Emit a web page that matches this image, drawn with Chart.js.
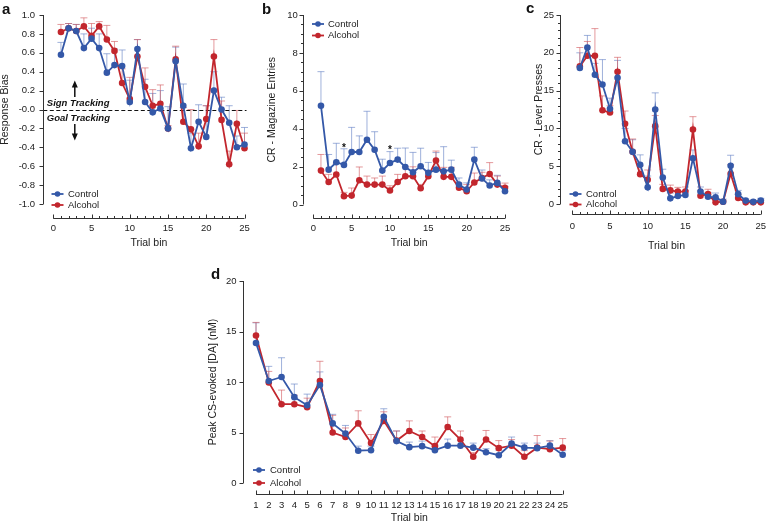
<!DOCTYPE html>
<html>
<head>
<meta charset="utf-8">
<script src="https://cdn.jsdelivr.net/npm/chart.js@4.4.0/dist/chart.umd.min.js"></script>
<style>
  html, body { margin: 0; padding: 0; background: #fff; width: 768px; height: 529px; overflow: hidden; }
  canvas { position: absolute; left: 0; top: 0; }
  .letter { position: absolute; font: bold 15px 'Liberation Sans', Arial, sans-serif; line-height: 15px; color: #111; }
</style>
</head>
<body>
<canvas id="chartA" width="768" height="529"></canvas>
<canvas id="chartB" width="768" height="529"></canvas>
<canvas id="chartC" width="768" height="529"></canvas>
<canvas id="chartD" width="768" height="529"></canvas>
<div class="letter" style="left:2px;top:1px">a</div>
<div class="letter" style="left:262px;top:1px">b</div>
<div class="letter" style="left:526px;top:0px">c</div>
<div class="letter" style="left:211px;top:266px">d</div>
<script>
// trial bins shared by all panels
const trialBins = [1, 2, 3, 4, 5, 6, 7, 8, 9, 10, 11, 12, 13, 14, 15, 16, 17, 18, 19, 20, 21, 22, 23, 24, 25];

// a - response bias
const biasControl = [0.58, 0.86, 0.83, 0.65, 0.75, 0.65, 0.39, 0.47, 0.46, 0.08, 0.64, 0.08, -0.03, 0.01, -0.20, 0.51, 0.04, -0.41, -0.13, -0.29, 0.20, 0.00, -0.14, -0.40, -0.37];
const biasControlErr = [0.13, 0.05, 0.07, 0.15, 0.11, 0.15, 0.20, 0.17, 0.17, 0.23, 0.10, 0.24, 0.20, 0.19, 0.23, 0.15, 0.23, 0.16, 0.18, 0.33, 0.20, 0.13, 0.18, 0.12, 0.18];
const biasAlcohol = [0.82, 0.86, 0.83, 0.88, 0.78, 0.88, 0.74, 0.62, 0.28, 0.11, 0.56, 0.24, 0.04, 0.06, -0.20, 0.53, -0.13, -0.21, -0.39, -0.10, 0.56, -0.11, -0.58, -0.15, -0.41];
const biasAlcoholErr = [0.08, 0.05, 0.07, 0.09, 0.13, 0.05, 0.15, 0.10, 0.15, 0.23, 0.18, 0.20, 0.17, 0.20, 0.03, 0.14, 0.15, 0.21, 0.14, 0.14, 0.18, 0.20, 0.14, 0.14, 0.16];
const biasTicks = [-1.0, -0.8, -0.6, -0.4, -0.2, 0, 0.2, 0.4, 0.6, 0.8, 1.0];

// b - magazine entries
const entriesControl = [5.21, 1.84, 2.23, 2.09, 2.77, 2.77, 3.42, 2.89, 1.79, 2.19, 2.37, 1.98, 1.70, 2.02, 1.67, 1.84, 1.75, 1.84, 1.05, 0.79, 2.37, 1.37, 1.00, 1.14, 0.70];
const entriesControlErr = [1.8, 0.8, 1.0, 0.85, 1.3, 0.85, 1.5, 0.95, 0.6, 0.6, 0.6, 1.0, 1.05, 0.95, 0.55, 0.9, 1.3, 0.5, 0.35, 0.35, 0.65, 0.45, 0.3, 0.4, 0.25];
const entriesAlcohol = [1.79, 1.19, 1.58, 0.44, 0.47, 1.28, 1.05, 1.05, 1.05, 0.74, 1.19, 1.49, 1.49, 0.86, 1.49, 2.32, 1.46, 1.46, 0.88, 0.70, 1.16, 1.40, 1.61, 1.05, 0.88];
const entriesAlcoholErr = [0.85, 0.4, 0.6, 0.2, 0.4, 0.7, 0.45, 0.35, 0.45, 0.25, 0.4, 0.5, 0.5, 0.2, 0.25, 0.5, 0.5, 0.5, 0.25, 0.35, 0.5, 0.3, 0.6, 0.45, 0.25];
const entriesTicks = [0, 2, 4, 6, 8, 10];
const starBins = [4, 10];

// c - lever presses
const pressControl = [18.0, 20.7, 17.1, 15.8, 12.6, 16.7, 8.3, 6.9, 5.2, 2.2, 12.5, 3.5, 0.75, 1.05, 1.2, 6.05, 1.65, 0.95, 0.9, 0.3, 5.05, 1.3, 0.45, 0.3, 0.45];
const pressControlErr = [2.0, 1.6, 1.5, 3.3, 1.4, 2.3, 1.7, 1.6, 1.3, 1.5, 2.2, 1.1, 0.7, 0.6, 0.6, 1.1, 0.6, 0.55, 0.55, 0.35, 1.4, 0.5, 0.2, 0.2, 0.3];
const pressAlcohol = [18.2, 19.6, 19.6, 12.4, 12.1, 17.5, 10.6, 6.9, 3.95, 3.2, 10.3, 2.0, 1.8, 1.65, 1.65, 9.85, 1.1, 1.3, 0.22, 0.3, 4.0, 0.8, 0.22, 0.22, 0.22];
const pressAlcoholErr = [2.5, 1.9, 3.6, 1.9, 0.9, 1.9, 1.7, 1.7, 1.1, 1.3, 1.4, 0.6, 0.7, 0.55, 0.6, 1.7, 0.65, 0.65, 0.3, 0.2, 1.2, 0.5, 0.3, 0.2, 0.3];
const pressTicks = [0, 5, 10, 15, 20, 25];

// d - peak CS-evoked dopamine
const daControl = [13.86, 10.1, 10.5, 8.5, 7.7, 9.7, 5.9, 4.9, 3.2, 3.25, 6.55, 4.15, 3.55, 3.65, 3.25, 3.7, 3.7, 3.5, 3.05, 2.75, 3.9, 3.5, 3.45, 3.7, 2.8];
const daControlErr = [2.0, 1.45, 1.9, 1.3, 1.1, 1.3, 0.9, 0.8, 0.45, 0.4, 0.8, 1.0, 0.5, 0.5, 0.5, 0.65, 0.5, 0.45, 0.35, 0.5, 0.65, 0.45, 0.5, 0.5, 0.4];
const daAlcohol = [14.6, 9.95, 7.8, 7.8, 7.5, 10.1, 5.0, 4.55, 5.9, 3.95, 6.15, 4.2, 5.15, 4.55, 3.65, 5.55, 4.3, 2.6, 4.3, 3.45, 3.7, 2.6, 3.5, 3.35, 3.5];
const daAlcoholErr = [1.3, 1.1, 1.4, 0.9, 0.9, 1.95, 1.7, 0.9, 1.25, 0.85, 0.9, 0.95, 1.0, 0.6, 0.9, 1.0, 0.85, 0.4, 0.9, 0.75, 0.6, 0.6, 1.2, 0.8, 0.9];
const daTicks = [0, 5, 10, 15, 20];

const binLabels = [0, 5, 10, 15, 20, 25];

const FONT = "'Liberation Sans', Arial, sans-serif";
const TICK_SIZE = 9.5;
const TITLE_SIZE = 10.5;
const TEXT = '#222';
const BLUE = '#3458a8';
const RED = '#c2262d';
const BLUE_ERR = 'rgba(95,125,195,0.6)';
const RED_ERR = 'rgba(210,85,90,0.6)';

function stepList(min, max, step) {
    const out = [];
    for (let i = 0; min + i * step <= max + 1e-9; i++) out.push(+(min + i * step).toFixed(4));
    return out;
}

// one-sided (upward) SEM bars
const errorBars = {
    id: 'errorBars',
    beforeDatasetsDraw(chart) {
        const ctx = chart.ctx;
        const y = chart.scales.y;
        chart.data.datasets.forEach((ds, i) => {
            const meta = chart.getDatasetMeta(i);
            ctx.save();
            ctx.strokeStyle = ds.errColor;
            ctx.lineWidth = 1;
            ctx.beginPath();
            meta.data.forEach((pt, j) => {
                const top = y.getPixelForValue(ds.data[j].y + ds.errors[j]);
                ctx.moveTo(pt.x, pt.y);
                ctx.lineTo(pt.x, top);
                ctx.moveTo(pt.x - 3.5, top);
                ctx.lineTo(pt.x + 3.5, top);
            });
            ctx.stroke();
            ctx.restore();
        });
    }
};

// detached prism-style axes
const prismAxes = {
    id: 'prismAxes',
    afterDraw(chart, args, o) {
        const {ctx, chartArea} = chart;
        const {x, y} = chart.scales;
        const ax = Math.round(chartArea.left - o.gapY) + 0.5;
        const ay = Math.round(chartArea.bottom + o.gapX) + 0.5;
        ctx.save();
        ctx.strokeStyle = '#333';
        ctx.lineWidth = 1;
        ctx.beginPath();
        ctx.moveTo(ax, y.getPixelForValue(y.max));
        ctx.lineTo(ax, y.getPixelForValue(y.min));
        y.ticks.forEach(t => {
            const py = Math.round(y.getPixelForValue(t.value)) + 0.5;
            ctx.moveTo(ax - (t.label ? 4 : 2.5), py);
            ctx.lineTo(ax, py);
        });
        ctx.moveTo(x.getPixelForValue(x.min), ay);
        ctx.lineTo(x.getPixelForValue(x.max), ay);
        x.ticks.forEach(t => {
            const px = Math.round(x.getPixelForValue(t.value)) + 0.5;
            ctx.moveTo(px, ay);
            ctx.lineTo(px, ay - (t.label ? 4 : 2.5));
        });
        ctx.stroke();
        ctx.restore();
    }
};

const lineLegend = {
    id: 'lineLegend',
    afterDraw(chart, args, o) {
        const ctx = chart.ctx;
        ctx.save();
        chart.data.datasets.forEach((ds, i) => {
            const y = o.y[i];
            ctx.strokeStyle = ds.borderColor;
            ctx.lineWidth = 1.8;
            ctx.beginPath();
            ctx.moveTo(o.x, y);
            ctx.lineTo(o.x + o.len, y);
            ctx.stroke();
            ctx.fillStyle = ds.borderColor;
            ctx.beginPath();
            ctx.arc(o.x + o.len / 2, y, 2.8, 0, Math.PI * 2);
            ctx.fill();
            ctx.fillStyle = TEXT;
            ctx.font = TICK_SIZE + 'px ' + FONT;
            ctx.textBaseline = 'middle';
            ctx.fillText(ds.label, o.textX, y);
        });
        ctx.restore();
    }
};

// zero line with sign / goal tracking notes (panel a)
const trackingNote = {
    id: 'trackingNote',
    beforeDatasetsDraw(chart) {
        const {ctx, chartArea} = chart;
        const y0 = Math.round(chart.scales.y.getPixelForValue(0)) + 0.5;
        ctx.save();
        ctx.strokeStyle = '#111';
        ctx.lineWidth = 1.2;
        ctx.setLineDash([4, 2.5]);
        ctx.beginPath();
        ctx.moveTo(chartArea.left - 10, y0);
        ctx.lineTo(chartArea.right + 2, y0);
        ctx.stroke();
        ctx.restore();
    },
    afterDraw(chart) {
        const {ctx, chartArea} = chart;
        const y0 = chart.scales.y.getPixelForValue(0);
        const left = chartArea.left - 6.5;
        const ax = chartArea.left + 21.5;
        ctx.save();
        ctx.fillStyle = '#111';
        ctx.strokeStyle = '#111';
        ctx.font = 'italic bold 9.5px ' + FONT;
        ctx.textBaseline = 'middle';
        ctx.fillText('Sign Tracking', left, y0 - 6.5);
        ctx.fillText('Goal Tracking', left, y0 + 8.5);
        ctx.lineWidth = 1.5;
        ctx.beginPath();
        ctx.moveTo(ax, y0 - 12.5); ctx.lineTo(ax, y0 - 24);
        ctx.moveTo(ax, y0 + 14.5); ctx.lineTo(ax, y0 + 26);
        ctx.stroke();
        ctx.beginPath();
        ctx.moveTo(ax, y0 - 29); ctx.lineTo(ax - 3, y0 - 22); ctx.lineTo(ax + 3, y0 - 22); ctx.closePath();
        ctx.moveTo(ax, y0 + 31); ctx.lineTo(ax - 3, y0 + 24); ctx.lineTo(ax + 3, y0 + 24); ctx.closePath();
        ctx.fill();
        ctx.restore();
    }
};

// significance stars above control bars (panel b)
const stars = {
    id: 'stars',
    afterDraw(chart) {
        const ctx = chart.ctx;
        const {x, y} = chart.scales;
        const ds = chart.data.datasets[0];
        ctx.save();
        ctx.fillStyle = '#111';
        ctx.font = 'bold 10px ' + FONT;
        ctx.textAlign = 'center';
        ctx.textBaseline = 'middle';
        starBins.forEach(b => {
            const j = trialBins.indexOf(b);
            ctx.fillText('*', x.getPixelForValue(b), y.getPixelForValue(ds.data[j].y + ds.errors[j]) - 1);
        });
        ctx.restore();
    }
};

function series(label, vals, errs, color, errColor) {
    return {
        label: label,
        data: trialBins.map((b, i) => ({x: b, y: vals[i]})),
        errors: errs,
        errColor: errColor,
        borderColor: color,
        backgroundColor: color,
        pointBackgroundColor: color,
        pointBorderColor: color,
        pointRadius: 3.3,
        pointBorderWidth: 0,
        borderWidth: 1.8,
        tension: 0,
        clip: false
    };
}

function drawPanel(id, p) {
    const padLeft = p.yTitleX - TITLE_SIZE / 2;
    const scaleBottom = p.xTitleY + TITLE_SIZE / 2;
    const tickFont = {family: FONT, size: TICK_SIZE};
    const titleFont = {family: FONT, size: TITLE_SIZE, lineHeight: 1};
    new Chart(document.getElementById(id), {
        type: 'line',
        data: {
            datasets: [
                series('Control', p.control, p.controlErr, BLUE, BLUE_ERR),
                series('Alcohol', p.alcohol, p.alcoholErr, RED, RED_ERR)
            ]
        },
        options: {
            responsive: false,
            animation: false,
            devicePixelRatio: 1,
            events: [],
            layout: {
                padding: {left: padLeft, top: p.area.top, right: 768 - p.area.right, bottom: 529 - scaleBottom}
            },
            plugins: {
                legend: {display: false},
                tooltip: {enabled: false},
                prismAxes: {gapX: p.gapX, gapY: p.gapY},
                lineLegend: p.legend
            },
            scales: {
                x: {
                    type: 'linear',
                    bounds: 'data',
                    min: p.xMin,
                    max: 25,
                    grid: {display: false, drawTicks: false},
                    border: {display: false},
                    afterBuildTicks: s => { s.ticks = p.xTicks.map(v => ({value: v})); },
                    afterFit: s => { s.height = scaleBottom - p.area.bottom; s.paddingLeft = 0; s.paddingRight = 0; },
                    ticks: {
                        autoSkip: false, maxRotation: 0, minRotation: 0,
                        padding: p.xLabelPad, font: tickFont, color: TEXT,
                        callback: v => p.xMajor.includes(v) ? String(v) : ''
                    },
                    title: {display: true, text: 'Trial bin', font: titleFont, color: TEXT, padding: 0}
                },
                y: {
                    type: 'linear',
                    bounds: 'data',
                    min: p.yMin,
                    max: p.yMax,
                    grid: {display: false, drawTicks: false},
                    border: {display: false},
                    afterBuildTicks: s => { s.ticks = p.yTicks.map(v => ({value: v})); },
                    afterFit: s => { s.width = p.area.left - padLeft; s.paddingTop = 0; s.paddingBottom = 0; },
                    ticks: {
                        autoSkip: false,
                        padding: p.yLabelPad, font: tickFont, color: TEXT,
                        callback: p.yLabel
                    },
                    title: {display: true, text: p.yTitle, font: titleFont, color: TEXT, padding: 0}
                }
            }
        },
        plugins: [errorBars, prismAxes, lineLegend].concat(p.extra || [])
    });
}

drawPanel('chartA', {
    control: biasControl, controlErr: biasControlErr,
    alcohol: biasAlcohol, alcoholErr: biasAlcoholErr,
    area: {left: 53.3, right: 244.5, top: 15, bottom: 204},
    xMin: 0, yMin: -1, yMax: 1,
    xTicks: stepList(0, 25, 1), xMajor: binLabels,
    yTicks: biasTicks,
    yLabel: v => v === 0 ? '-0.0' : v.toFixed(1),
    yTitle: 'Response Bias',
    yTitleX: 5.5, xTitleY: 243.3,
    gapY: 10, gapX: 14, yLabelPad: 18.3, xLabelPad: 18.3,
    legend: {x: 51.5, len: 12, textX: 68, y: [194, 205]},
    extra: [trackingNote]
});

drawPanel('chartB', {
    control: entriesControl, controlErr: entriesControlErr,
    alcohol: entriesAlcohol, alcoholErr: entriesAlcoholErr,
    area: {left: 313.3, right: 505, top: 15, bottom: 204.5},
    xMin: 0, yMin: 0, yMax: 10,
    xTicks: stepList(0, 25, 1), xMajor: binLabels,
    yTicks: stepList(0, 10, 0.5),
    yLabel: v => entriesTicks.includes(v) ? String(v) : '',
    yTitle: 'CR - Magazine Entries',
    yTitleX: 272.5, xTitleY: 243.3,
    gapY: 10.6, gapX: 13.5, yLabelPad: 15.5, xLabelPad: 17.8,
    legend: {x: 312, len: 12, textX: 328, y: [24, 35.5]},
    extra: [stars]
});

drawPanel('chartC', {
    control: pressControl, controlErr: pressControlErr,
    alcohol: pressAlcohol, alcoholErr: pressAlcoholErr,
    area: {left: 572.3, right: 760.8, top: 15, bottom: 204},
    xMin: 0, yMin: 0, yMax: 25,
    xTicks: stepList(0, 25, 1), xMajor: binLabels,
    yTicks: stepList(0, 25, 1),
    yLabel: v => pressTicks.includes(v) ? String(v) : '',
    yTitle: 'CR - Lever Presses',
    yTitleX: 539, xTitleY: 246,
    gapY: 12, gapX: 10, yLabelPad: 18.3, xLabelPad: 17,
    legend: {x: 569.5, len: 12, textX: 586, y: [194, 204.5]}
});

drawPanel('chartD', {
    control: daControl, controlErr: daControlErr,
    alcohol: daAlcohol, alcoholErr: daAlcoholErr,
    area: {left: 256, right: 562.7, top: 281, bottom: 483},
    xMin: 1, yMin: 0, yMax: 20,
    xTicks: trialBins, xMajor: trialBins,
    yTicks: daTicks,
    yLabel: v => String(v),
    yTitle: 'Peak CS-evoked [DA] (nM)',
    yTitleX: 213, xTitleY: 518,
    gapY: 12.7, gapX: 11, yLabelPad: 19.5, xLabelPad: 16.3,
    legend: {x: 253, len: 12, textX: 270, y: [470, 483]}
});
</script>
</body>
</html>
